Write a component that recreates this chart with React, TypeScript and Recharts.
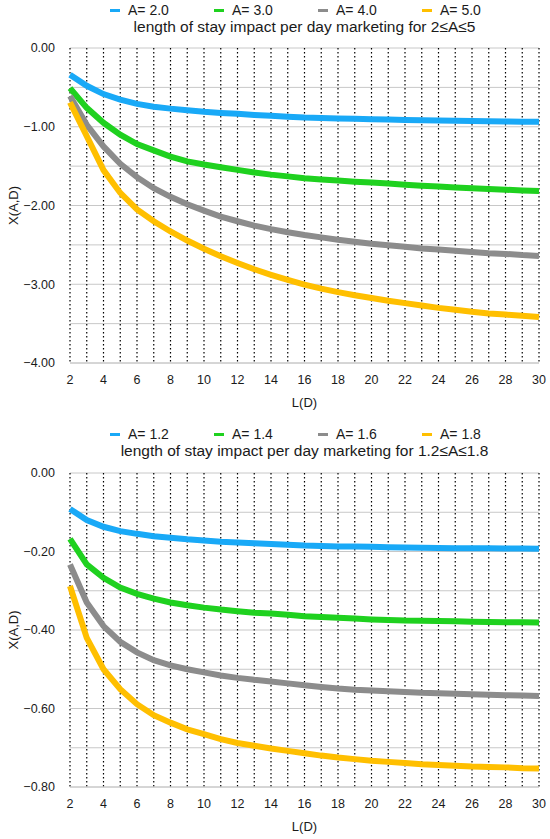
import React from "react";
import { LineChart, Line, XAxis, YAxis, CartesianGrid } from "recharts";

const FONT = "'Liberation Sans', Arial, Helvetica, sans-serif";
const COLORS = ["#19a9f7", "#1fd11f", "#8c8c8c", "#ffbf00"];

// length of stay, days
const L_DAYS = [2, 3, 4, 5, 6, 7, 8, 9, 10, 11, 12, 13, 14, 15, 16, 17, 18, 19, 20, 21, 22, 23, 24, 25, 26, 27, 28, 29, 30];

// top panel, 2 <= A <= 5
const TOP_NAMES = ["A= 2.0", "A= 3.0", "A= 4.0", "A= 5.0"];
const A20 = [-0.34, -0.48, -0.585, -0.655, -0.71, -0.745, -0.77, -0.79, -0.81, -0.825, -0.836, -0.85, -0.861, -0.872, -0.883, -0.889, -0.894, -0.899, -0.904, -0.908, -0.913, -0.917, -0.921, -0.924, -0.927, -0.93, -0.933, -0.935, -0.938];
const A30 = [-0.51, -0.76, -0.95, -1.1, -1.22, -1.3, -1.38, -1.44, -1.48, -1.515, -1.548, -1.58, -1.608, -1.63, -1.654, -1.67, -1.684, -1.697, -1.709, -1.722, -1.735, -1.748, -1.76, -1.77, -1.78, -1.79, -1.8, -1.808, -1.815];
const A40 = [-0.61, -0.975, -1.25, -1.47, -1.64, -1.78, -1.89, -1.985, -2.065, -2.14, -2.2, -2.255, -2.3, -2.34, -2.375, -2.405, -2.435, -2.46, -2.485, -2.505, -2.525, -2.545, -2.56, -2.575, -2.59, -2.605, -2.615, -2.63, -2.64];
const A50 = [-0.69, -1.12, -1.55, -1.84, -2.05, -2.2, -2.33, -2.445, -2.55, -2.645, -2.73, -2.81, -2.88, -2.945, -3.005, -3.055, -3.1, -3.14, -3.175, -3.21, -3.24, -3.27, -3.3, -3.325, -3.35, -3.37, -3.385, -3.4, -3.415];
const TOP_Y_TICKS = [0, -0.5, -1, -1.5, -2, -2.5, -3, -3.5, -4];

// bottom panel, 1.2 <= A <= 1.8
const BOT_NAMES = ["A= 1.2", "A= 1.4", "A= 1.6", "A= 1.8"];
const A12 = [-0.0915, -0.12, -0.137, -0.148, -0.155, -0.161, -0.165, -0.169, -0.172, -0.175, -0.177, -0.179, -0.181, -0.183, -0.185, -0.186, -0.187, -0.1875, -0.188, -0.189, -0.19, -0.1905, -0.191, -0.1915, -0.192, -0.192, -0.1925, -0.1925, -0.193];
const A14 = [-0.168, -0.233, -0.267, -0.292, -0.308, -0.32, -0.33, -0.337, -0.343, -0.348, -0.352, -0.356, -0.358, -0.361, -0.365, -0.367, -0.369, -0.371, -0.373, -0.3745, -0.376, -0.3765, -0.377, -0.378, -0.379, -0.3795, -0.38, -0.3805, -0.381];
const A16 = [-0.233, -0.33, -0.39, -0.43, -0.457, -0.477, -0.49, -0.5, -0.508, -0.516, -0.522, -0.527, -0.531, -0.536, -0.541, -0.545, -0.549, -0.552, -0.554, -0.556, -0.558, -0.56, -0.561, -0.5625, -0.564, -0.565, -0.566, -0.567, -0.568];
const A18 = [-0.288, -0.42, -0.5, -0.551, -0.589, -0.617, -0.636, -0.653, -0.665, -0.678, -0.688, -0.695, -0.702, -0.708, -0.714, -0.72, -0.725, -0.729, -0.733, -0.736, -0.739, -0.742, -0.744, -0.746, -0.748, -0.749, -0.75, -0.752, -0.753];
const BOT_Y_TICKS = [0, -0.1, -0.2, -0.3, -0.4, -0.5, -0.6, -0.7, -0.8];

const W = 550;
const PLOT_LEFT = 70;
const PLOT_RIGHT = 11;

function fmtY(step: number) {
  return (v: number) => {
    const r = v / step;
    if (Math.abs(r - Math.round(r)) > 1e-6) return "";
    return v === 0 ? "0.00" : "\u2212" + Math.abs(v).toFixed(2);
  };
}

function Panel({ top, height, plotTop, axisH, title, names, series, yTicks, labelStep }: {
  top: number; height: number; plotTop: number; axisH: number; title: string;
  names: string[]; series: number[][]; yTicks: number[]; labelStep: number;
}) {
  const data = L_DAYS.map((l, i) => {
    const row: Record<string, number> = { L: l };
    series.forEach((s, k) => { row["s" + k] = s[i]; });
    return row;
  });
  const yMin = yTicks[yTicks.length - 1];

  return (
    <div style={{ position: "absolute", left: 0, top, width: W, height, fontFamily: FONT }}>
      {/* legend row */}
      <div style={{ position: "absolute", top: 2, left: 110, display: "flex", fontSize: 14, lineHeight: "16px", color: "#1a1a1a" }}>
        {names.map((n, k) => (
          <div key={n} style={{ width: 104, display: "flex", alignItems: "center" }}>
            <span style={{ display: "inline-block", width: 10, height: 3, background: COLORS[k], marginRight: 8 }} />
            <span>{n}</span>
          </div>
        ))}
      </div>
      <div style={{ position: "absolute", top: 18, left: PLOT_LEFT, width: W - PLOT_LEFT - PLOT_RIGHT, textAlign: "center", fontSize: 15.5, lineHeight: "18px", color: "#1a1a1a" }}>
        {title}
      </div>
      <LineChart width={W} height={height} data={data} margin={{ top: plotTop, right: PLOT_RIGHT, left: 0, bottom: 0 }} style={{ fontFamily: FONT }}>
        <CartesianGrid vertical={false} stroke="#c8c8c8" />
        <CartesianGrid horizontal={false} stroke="#000" strokeWidth={1.2} strokeDasharray="1.4 2.6" />
        <XAxis
          type="number"
          dataKey="L"
          domain={[2, 30]}
          ticks={L_DAYS}
          interval={0}
          tickFormatter={(l: number) => (l % 2 === 0 ? String(l) : "")}
          tickLine={false}
          axisLine={{ stroke: "#c8c8c8" }}
          tick={{ fontSize: 12.5, fill: "#1a1a1a" }}
          tickMargin={6}
          height={axisH}
          label={(p: any) => (
            <text x={p.viewBox.x + p.viewBox.width / 2} y={p.viewBox.y + 43.5} textAnchor="middle" fontSize={13} fill="#1a1a1a">L(D)</text>
          )}
        />
        <YAxis
          type="number"
          domain={[yMin, 0]}
          ticks={yTicks}
          interval={0}
          tickFormatter={fmtY(labelStep)}
          tickLine={false}
          axisLine={false}
          tick={{ fontSize: 12.5, fill: "#1a1a1a" }}
          tickMargin={9}
          width={PLOT_LEFT}
          label={(p: any) => {
            const cx = p.viewBox.x + 18;
            const cy = p.viewBox.y + p.viewBox.height / 2;
            return (
              <text x={cx} y={cy} transform={`rotate(-90 ${cx} ${cy})`} textAnchor="middle" fontSize={13} fill="#1a1a1a">X(A,D)</text>
            );
          }}
        />
        {series.map((_, k) => (
          <Line
            key={k}
            type="linear"
            dataKey={"s" + k}
            stroke={COLORS[k]}
            strokeWidth={6}
            dot={false}
            isAnimationActive={false}
          />
        ))}
      </LineChart>
    </div>
  );
}

export default function App() {
  return (
    <div style={{ position: "absolute", left: 0, top: 0, width: W, height: 839, overflow: "hidden", background: "#fff" }}>
      <Panel
        top={0}
        height={420}
        plotTop={48}
        axisH={57}
        title="length of stay impact per day marketing for 2≤A≤5"
        names={TOP_NAMES}
        series={[A20, A30, A40, A50]}
        yTicks={TOP_Y_TICKS}
        labelStep={1}
      />
      <Panel
        top={424}
        height={415}
        plotTop={49}
        axisH={52}
        title="length of stay impact per day marketing for 1.2≤A≤1.8"
        names={BOT_NAMES}
        series={[A12, A14, A16, A18]}
        yTicks={BOT_Y_TICKS}
        labelStep={0.2}
      />
    </div>
  );
}
